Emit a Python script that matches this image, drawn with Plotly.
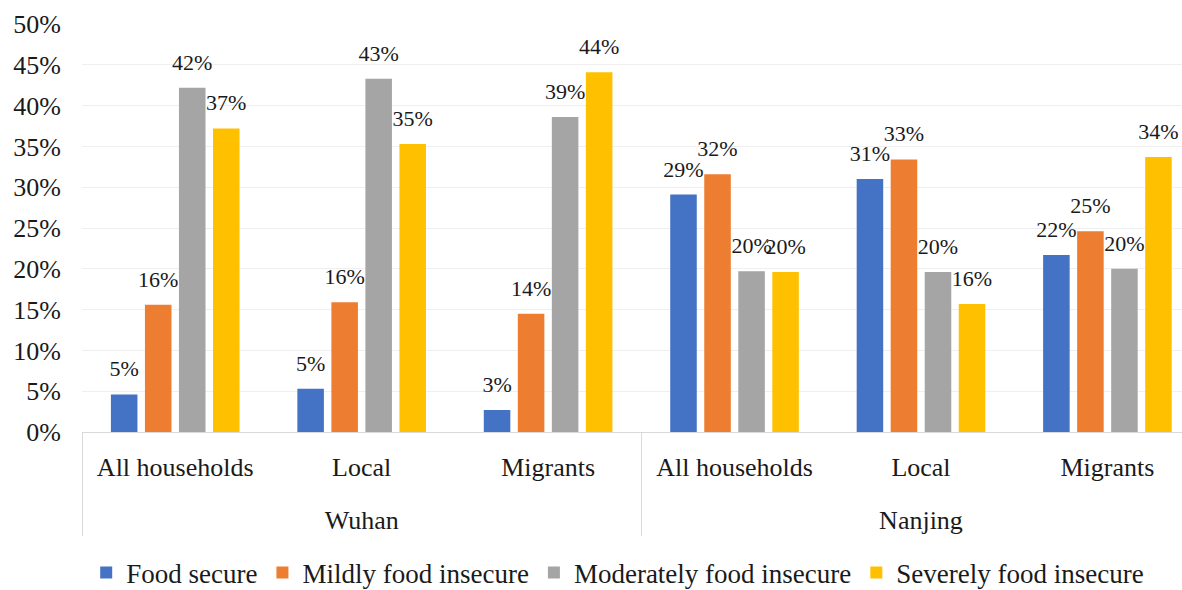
import plotly.graph_objects as go

cities = ["Wuhan"] * 3 + ["Nanjing"] * 3
groups = ["All households", "Local", "Migrants"] * 2

series_names = ["Food secure", "Mildly food insecure", "Moderately food insecure", "Severely food insecure"]
food_secure = [0.046, 0.053, 0.027, 0.291, 0.310, 0.217]
mildly_insecure = [0.156, 0.159, 0.145, 0.316, 0.334, 0.246]
moderately_insecure = [0.422, 0.433, 0.386, 0.197, 0.196, 0.200]
severely_insecure = [0.372, 0.353, 0.441, 0.196, 0.157, 0.337]
colors = ["#4472C4", "#ED7D31", "#A5A5A5", "#FFC000"]

FONT = "Liberation Serif"

# city labels get a leading line break so they sit lower, as in the reference
city_labels = ["<br>" + c for c in cities]

# large invisible spacers around the value lift the label a little above the bar
PAD = "<span style='font-size:68px'>\u00a0</span>"
label_template = PAD + "%{y:.0%}" + PAD

fig = go.Figure()
for name, vals, col in zip(series_names,
                           [food_secure, mildly_insecure, moderately_insecure, severely_insecure],
                           colors):
    fig.add_trace(go.Bar(
        x=[city_labels, groups], y=vals, name=name,
        marker=dict(color=col, line=dict(width=0)),
        texttemplate=label_template, textposition="outside",
        constraintext="none", cliponaxis=False,
        textfont=dict(family=FONT, size=22, color="#1a1a1a"),
    ))

fig.update_layout(
    width=1182, height=590,
    margin=dict(l=82, r=0, t=24, b=158),
    plot_bgcolor="white", paper_bgcolor="white",
    barmode="group", bargap=0.27, bargroupgap=0.22,
    font=dict(family=FONT, size=26, color="#1a1a1a"),
    legend=dict(orientation="h", x=0.487, xanchor="center",
                yref="container", y=0.029, yanchor="middle",
                font=dict(family=FONT, size=27, color="#1a1a1a"), itemwidth=30,
                tracegroupgap=0),
    showlegend=True,
)
fig.update_yaxes(range=[0, 0.5], dtick=0.05, tickformat=".0%", showgrid=True,
                 gridcolor="#efefef", gridwidth=1, zeroline=False, showline=False,
                 ticks="", ticklabelstandoff=20, automargin=False,
                 tickfont=dict(family=FONT, size=26, color="#1a1a1a"))
fig.update_xaxes(type="multicategory", range=[-0.5, 5.40], showline=True, linecolor="#d9d9d9",
                 linewidth=1, showdividers=True, dividercolor="#d9d9d9", dividerwidth=1,
                 ticks="", automargin=False, ticklabelstandoff=12,
                 tickfont=dict(family=FONT, size=26, color="#1a1a1a"))

fig.write_html("out.html")
